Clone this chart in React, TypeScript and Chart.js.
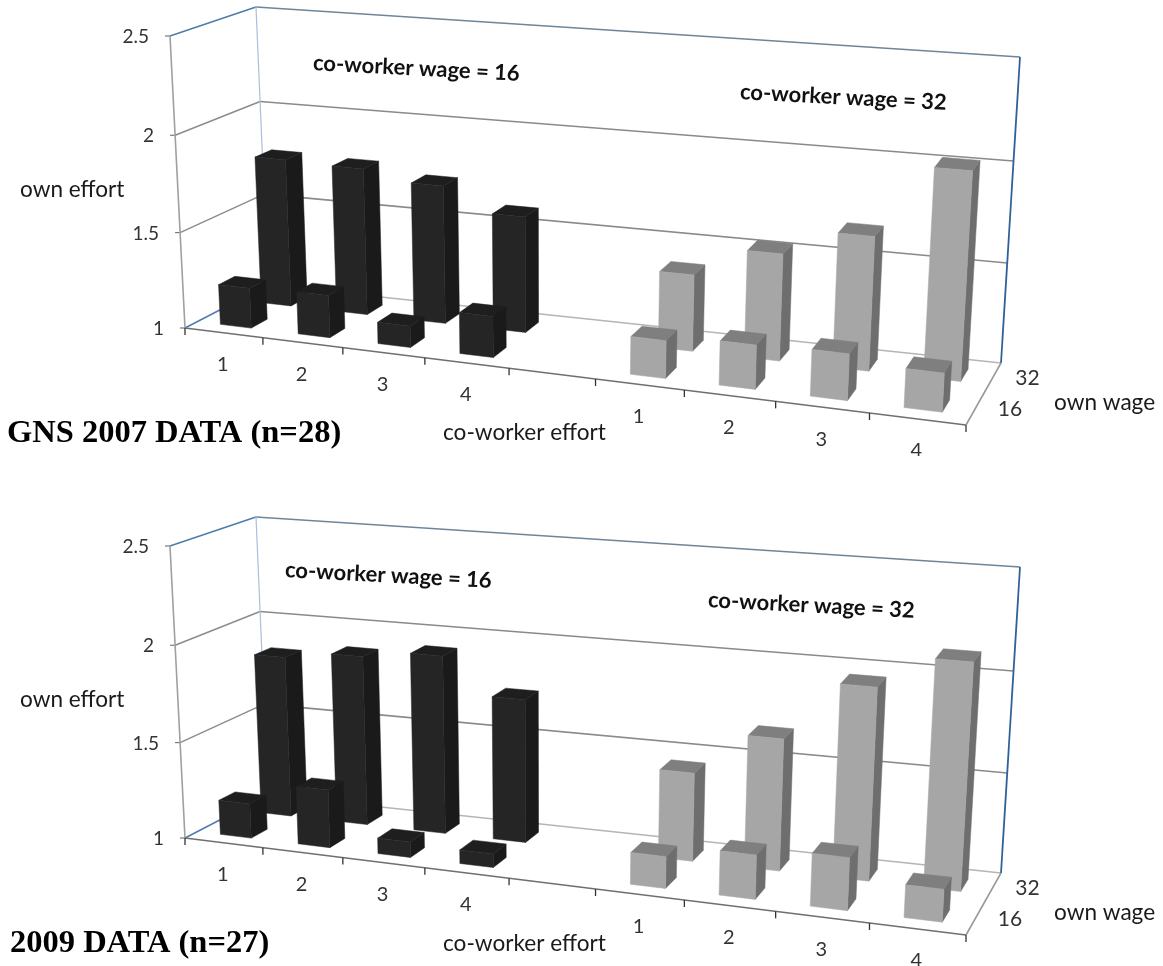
import React, { useEffect, useRef } from "react";
import { Chart, registerables } from "chart.js";

Chart.register(...registerables);

// ---- data ----
const categories = ["1", "2", "3", "4", "", "1", "2", "3", "4"];
const wageRows = ["16", "32"];

const top16Own16 = [1.21, 1.22, 1.11, 1.21];
const top16Own32 = [1.78, 1.77, 1.72, 1.6];
const top32Own16 = [1.19, 1.22, 1.23, 1.19];
const top32Own32 = [1.39, 1.54, 1.67, 2.03];

const bot16Own16 = [1.18, 1.3, 1.08, 1.07];
const bot16Own32 = [1.845, 1.885, 1.925, 1.74];
const bot32Own16 = [1.16, 1.22, 1.26, 1.16];
const bot32Own32 = [1.45, 1.665, 1.96, 2.12];

// ---- projection of the 3D box ----
type P = [number, number];
const F0: P = [185, 328];
const F1: P = [966, 425];
const B0: P = [268, 285];
const B1: P = [1001, 363];
const FT0: P = [170, 36];
const FT1: P = [984, 105];
const BT0: P = [256, 7];
const BT1: P = [1020, 57];
const WARP = 1.128;
const VWARP = 1.03;

const mix = (a: P, b: P, t: number): P => [a[0] + (b[0] - a[0]) * t, a[1] + (b[1] - a[1]) * t];

function project(chart: any, xv: number, zv: number, yv: number): P {
  const { x, y, z } = chart.scales;
  const area = chart.chartArea;
  const u0 = (x.getPixelForValue(xv) - area.left) / area.width;
  const u = u0 / (u0 + WARP * (1 - u0));
  const d = (z.getPixelForValue(zv) - area.left) / area.width;
  const v0 = (area.bottom - y.getPixelForValue(yv)) / area.height;
  const v = v0 / (v0 + VWARP * (1 - v0));
  const floorF = mix(F0, F1, u);
  const floorB = mix(B0, B1, u);
  const topF = mix(FT0, FT1, u);
  const topB = mix(BT0, BT1, u);
  return mix(mix(floorF, floorB, d), mix(topF, topB, d), v);
}

function line(ctx: CanvasRenderingContext2D, a: P, b: P, color: string, w: number) {
  ctx.beginPath();
  ctx.moveTo(a[0], a[1]);
  ctx.lineTo(b[0], b[1]);
  ctx.strokeStyle = color;
  ctx.lineWidth = w;
  ctx.stroke();
}

function poly(ctx: CanvasRenderingContext2D, pts: P[], color: string) {
  ctx.beginPath();
  pts.forEach((p, i) => (i ? ctx.lineTo(p[0], p[1]) : ctx.moveTo(p[0], p[1])));
  ctx.closePath();
  ctx.fillStyle = color;
  ctx.strokeStyle = color;
  ctx.lineWidth = 0.5;
  ctx.fill();
  ctx.stroke();
}

function text(
  ctx: CanvasRenderingContext2D,
  s: string,
  x: number,
  y: number,
  font: string,
  color = "#222",
  align: CanvasTextAlign = "left",
  rot = 0
) {
  ctx.save();
  ctx.translate(x, y);
  ctx.rotate((rot * Math.PI) / 180);
  ctx.font = font;
  ctx.fillStyle = color;
  ctx.textAlign = align;
  ctx.textBaseline = "middle";
  ctx.fillText(s, 0, 0);
  ctx.restore();
}

const LABEL = "Lato, Carlito, sans-serif";
const BAR_HALF = 0.2;
const ROW_HALF = 0.1;

const box3d = {
  id: "box3d",
  beforeDatasetsDraw(chart: any) {
    const ctx: CanvasRenderingContext2D = chart.ctx;
    const o = chart.options.plugins.box3d;
    const { y } = chart.scales;
    const P3 = (a: number, b: number, c: number) => project(chart, a, b, c);
    const n = categories.length;
    ctx.save();
    // walls: value lines
    for (const t of y.ticks) {
      const v = t.value;
      const isBase = v === 1;
      const isTop = v === 2.5;
      line(
        ctx,
        P3(0, 0, v),
        P3(0, 1, v),
        isBase || isTop ? "#4f7bad" : "#8c8c8c",
        isTop ? 1.6 : 1.5
      );
      line(
        ctx,
        P3(0, 1, v),
        P3(n, 1, v),
        isBase ? "#b5b5b5" : isTop ? "#6f8598" : "#8a8a8a",
        isBase ? 1.4 : 1.6
      );
      const a = P3(0, 0, v);
      line(ctx, a, [a[0] - 5, a[1]], "#777", 1.2);
      text(ctx, String(v), a[0] - 21, a[1] + 1, `19px ${LABEL}`, "#333", "right");
    }
    // wall edges
    line(ctx, P3(0, 0, 1), P3(0, 0, 2.5), "#a0a0a0", 1.6);
    line(ctx, P3(0, 1, 1), P3(0, 1, 2.5), "#a9c0da", 1.2);
    line(ctx, P3(n, 1, 1), P3(n, 1, 2.5), "#2f6199", 1.8);
    // floor front and right edges
    line(ctx, P3(0, 0, 1), P3(n, 0, 1), "#6f6f6f", 1.4);
    line(ctx, P3(n, 0, 1), P3(n, 1, 1), "#9a9a9a", 1.6);
    for (let i = 0; i <= n; i++) {
      const a = P3(i, 0, 1);
      line(ctx, a, [a[0], a[1] + 7], "#333", 1.3);
    }
    // category labels
    categories.forEach((c, i) => {
      if (!c) return;
      const a = P3(i + 0.5, 0, 1);
      text(ctx, c, a[0] - 1, a[1] + 32, `20px ${LABEL}`, "#333", "center");
    });
    // depth labels
    wageRows.forEach((w, i) => {
      const a = P3(n, i === 0 ? 0.25 : 0.75, 1);
      text(ctx, w, a[0] + 23, a[1] + 0, `21px ${LABEL}`, "#333", "left");
    });
    // bars: back row first, then front row
    const order = [...chart.data.datasets].sort((a: any, b: any) => b.row - a.row);
    for (const ds of order) {
      const dc = ds.row;
      ds.data.forEach((pt: any) => {
        const x0 = pt.x - BAR_HALF;
        const x1 = pt.x + BAR_HALF;
        const z0 = dc - ROW_HALF;
        const z1 = dc + ROW_HALF;
        poly(ctx, [P3(x1, z0, 1), P3(x1, z1, 1), P3(x1, z1, pt.y), P3(x1, z0, pt.y)], ds.sideColor);
        poly(ctx, [P3(x0, z0, pt.y), P3(x1, z0, pt.y), P3(x1, z1, pt.y), P3(x0, z1, pt.y)], ds.topColor);
        poly(ctx, [P3(x0, z0, 1), P3(x1, z0, 1), P3(x1, z0, pt.y), P3(x0, z0, pt.y)], ds.frontColor);
      });
    }
    // free text
    text(ctx, "own effort", 20, o.effortY, `22.6px ${LABEL}`, "#1a1a1a");
    text(ctx, "co-worker effort", 443, o.axisY, `22.6px ${LABEL}`, "#1a1a1a");
    text(ctx, "own wage", 1054, o.wageY, `22.6px ${LABEL}`, "#1a1a1a");
    text(ctx, "co-worker wage = 16", o.a16[0], o.a16[1], `bold 22px ${LABEL}`, "#111", "left", 3);
    text(ctx, "co-worker wage = 32", o.a32[0], o.a32[1], `bold 22px ${LABEL}`, "#111", "left", 3);
    text(ctx, o.title, o.titleX, o.titleY, `bold 32.5px "Liberation Serif", serif`, "#000");
    ctx.restore();
  },
};

function makeSet(values: number[], start: number, row: number, gray: boolean) {
  return {
    label: `row ${row}`,
    row,
    data: values.map((v, i) => ({ x: start + i + 0.5, y: v })),
    pointRadius: 0,
    showLine: false,
    frontColor: gray ? "#a6a6a6" : "#252525",
    sideColor: gray ? "#6e6e6e" : "#1a1a1a",
    topColor: gray ? "#7f7f7f" : "#1e1e1e",
  };
}

function Panel({ top, sets, cfg }: { top: number; sets: any[]; cfg: any }) {
  const ref = useRef<HTMLCanvasElement>(null);
  useEffect(() => {
    const chart = new Chart(ref.current!, {
      type: "scatter",
      data: { datasets: sets },
      options: {
        animation: false,
        responsive: false,
        layout: { padding: 0 },
        plugins: { legend: { display: false }, tooltip: { enabled: false }, box3d: cfg } as any,
        scales: {
          x: { type: "linear", min: 0, max: categories.length, display: false },
          y: { type: "linear", min: 1, max: 2.5, display: false, ticks: { stepSize: 0.5 } },
          z: { type: "linear", axis: "x", min: 0, max: 1, display: false } as any,
        },
      },
      plugins: [box3d as any],
    } as any);
    return () => chart.destroy();
  }, []);
  return (
    <canvas
      ref={ref}
      width={1163}
      height={456}
      style={{ position: "absolute", left: 0, top, width: 1163, height: 456, filter: "blur(0.45px)" }}
    />
  );
}

const topSets = [
  makeSet(top16Own16, 0, 0.25, false),
  makeSet(top16Own32, 0, 0.75, false),
  makeSet(top32Own16, 5, 0.25, true),
  makeSet(top32Own32, 5, 0.75, true),
];
const botSets = [
  makeSet(bot16Own16, 0, 0.25, false),
  makeSet(bot16Own32, 0, 0.75, false),
  makeSet(bot32Own16, 5, 0.25, true),
  makeSet(bot32Own32, 5, 0.75, true),
];

const topCfg = {
  title: "GNS 2007 DATA (n=28)",
  titleX: 7,
  titleY: 434,
  effortY: 190,
  axisY: 433,
  wageY: 403,
  a16: [313, 63],
  a32: [740, 92],
};
const botCfg = {
  title: "2009 DATA (n=27)",
  titleX: 10,
  titleY: 434,
  effortY: 190,
  axisY: 434,
  wageY: 403,
  a16: [285, 60],
  a32: [708, 90],
};

export default function App() {
  return (
    <div style={{ position: "absolute", left: 0, top: 0, width: 1163, height: 966, background: "#fff", overflow: "hidden" }}>
      <Panel top={0} sets={topSets} cfg={topCfg} />
      <Panel top={510} sets={botSets} cfg={botCfg} />
    </div>
  );
}
